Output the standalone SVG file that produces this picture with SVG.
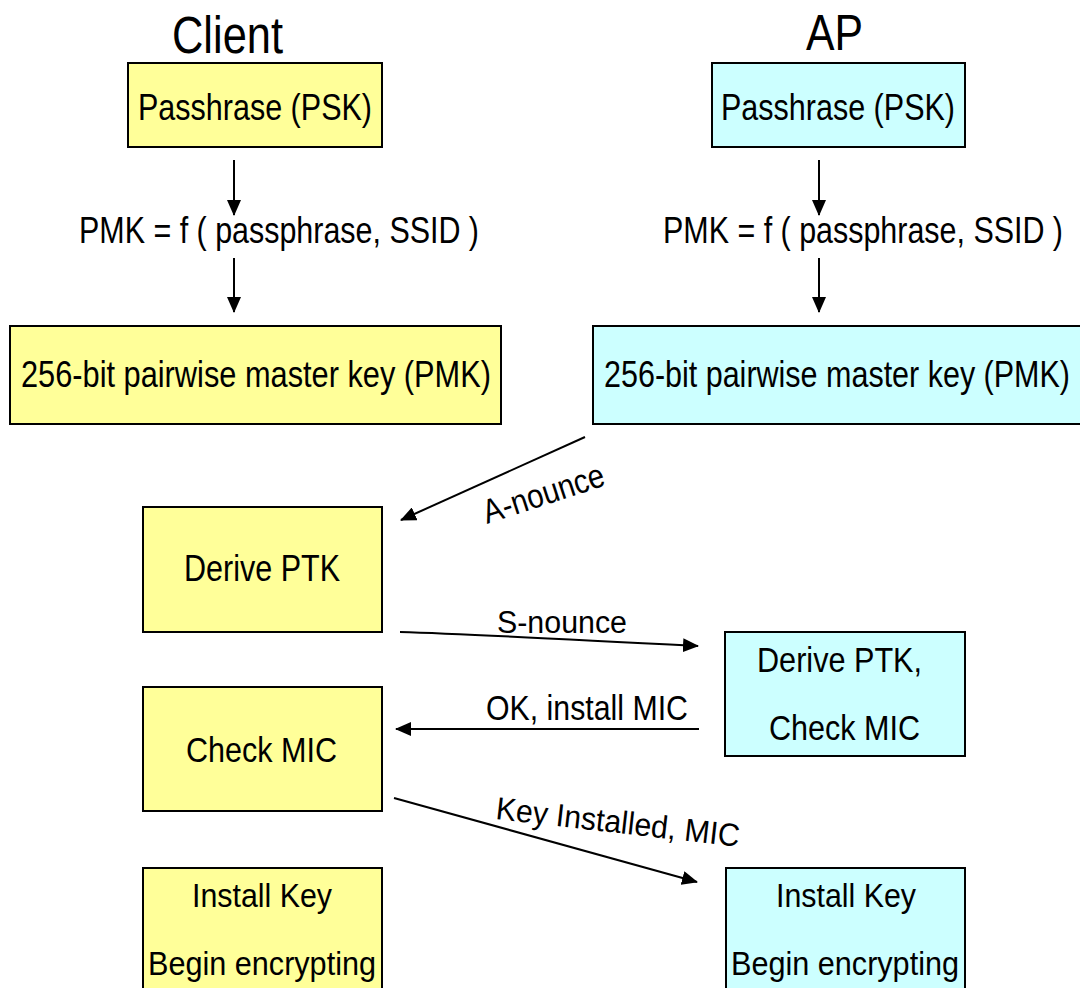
<svg xmlns="http://www.w3.org/2000/svg" width="1080" height="988" viewBox="0 0 1080 988">
<style>
  text { font-family: "Liberation Sans", Arial, sans-serif; fill: #000; }
  .client { fill: #FFFF99; stroke: #000; stroke-width: 2; }
  .ap { fill: #CCFFFF; stroke: #000; stroke-width: 2; }
  .conn { stroke: #000; stroke-width: 2; fill: none; marker-end: url(#arr); }
</style>
<defs>
  <marker id="arr" markerUnits="userSpaceOnUse" markerWidth="16" markerHeight="14" refX="15" refY="7" orient="auto">
    <path d="M0,0 L16,7 L0,14 z" fill="#000"/>
  </marker>
</defs>
<rect width="1080" height="988" fill="#fff"/>

<g id="titles">
  <text x="172" y="53" font-size="51" textLength="111" lengthAdjust="spacingAndGlyphs">Client</text>
  <text x="806" y="50" font-size="50" textLength="57" lengthAdjust="spacingAndGlyphs">AP</text>
</g>

<g id="connectors">
  <line id="c-psk-f" class="conn" x1="234" y1="160" x2="234" y2="215"/>
  <line id="c-f-pmk" class="conn" x1="234" y1="258" x2="234" y2="312"/>
  <line id="ap-psk-f" class="conn" x1="819" y1="160" x2="819" y2="215"/>
  <line id="ap-f-pmk" class="conn" x1="819" y1="258" x2="819" y2="312"/>
  <text x="79" y="243" font-size="36" textLength="400" lengthAdjust="spacingAndGlyphs">PMK = f ( passphrase, SSID )</text>
  <text x="663" y="243" font-size="36" textLength="400" lengthAdjust="spacingAndGlyphs">PMK = f ( passphrase, SSID )</text>

  <line id="a-nounce" class="conn" x1="585" y1="437" x2="401" y2="520"/>
  <text transform="translate(487,524) rotate(-18)" font-size="34" textLength="126" lengthAdjust="spacingAndGlyphs">A-nounce</text>

  <path id="s-nounce" class="conn" d="M400,632 Q470,634 698,646"/>
  <text x="497" y="633" font-size="31" textLength="130" lengthAdjust="spacingAndGlyphs">S-nounce</text>

  <line id="ok-install" class="conn" x1="699" y1="729" x2="396" y2="729"/>
  <text x="486" y="720" font-size="35" textLength="202" lengthAdjust="spacingAndGlyphs">OK, install MIC</text>

  <line id="key-installed" class="conn" x1="394" y1="798" x2="697" y2="882"/>
  <text transform="translate(495,819) rotate(6.5)" font-size="32" textLength="245" lengthAdjust="spacingAndGlyphs">Key Installed, MIC</text>
</g>

<g id="client-psk">
  <rect class="client" x="128" y="63" width="254" height="84"/>
  <text x="138" y="120" font-size="37" textLength="234" lengthAdjust="spacingAndGlyphs">Passhrase (PSK)</text>
</g>
<g id="ap-psk">
  <rect class="ap" x="712" y="63" width="253" height="84"/>
  <text x="721" y="120" font-size="37" textLength="234" lengthAdjust="spacingAndGlyphs">Passhrase (PSK)</text>
</g>
<g id="client-pmk">
  <rect class="client" x="10" y="326" width="491" height="98"/>
  <text x="21" y="387" font-size="37" textLength="470" lengthAdjust="spacingAndGlyphs">256-bit pairwise master key (PMK)</text>
</g>
<g id="ap-pmk">
  <rect class="ap" x="593" y="326" width="500" height="98"/>
  <text x="604" y="387" font-size="37" textLength="466" lengthAdjust="spacingAndGlyphs">256-bit pairwise master key (PMK)</text>
</g>
<g id="client-derive">
  <rect class="client" x="143" y="507" width="239" height="125"/>
  <text x="184" y="581" font-size="36" textLength="156" lengthAdjust="spacingAndGlyphs">Derive PTK</text>
</g>
<g id="ap-derive">
  <rect class="ap" x="725" y="632" width="240" height="124"/>
  <text x="757" y="672" font-size="35" textLength="165" lengthAdjust="spacingAndGlyphs">Derive PTK,</text>
  <text x="769" y="740" font-size="35" textLength="151" lengthAdjust="spacingAndGlyphs">Check MIC</text>
</g>
<g id="client-check">
  <rect class="client" x="143" y="687" width="239" height="124"/>
  <text x="186" y="762" font-size="35" textLength="151" lengthAdjust="spacingAndGlyphs">Check MIC</text>
</g>
<g id="client-install">
  <rect class="client" x="143" y="868" width="239" height="130"/>
  <text x="192" y="907" font-size="34" textLength="140" lengthAdjust="spacingAndGlyphs">Install Key</text>
  <text x="148" y="975" font-size="34" textLength="228" lengthAdjust="spacingAndGlyphs">Begin encrypting</text>
</g>
<g id="ap-install">
  <rect class="ap" x="726" y="868" width="239" height="130"/>
  <text x="776" y="907" font-size="34" textLength="140" lengthAdjust="spacingAndGlyphs">Install Key</text>
  <text x="731" y="975" font-size="34" textLength="228" lengthAdjust="spacingAndGlyphs">Begin encrypting</text>
</g>
</svg>
